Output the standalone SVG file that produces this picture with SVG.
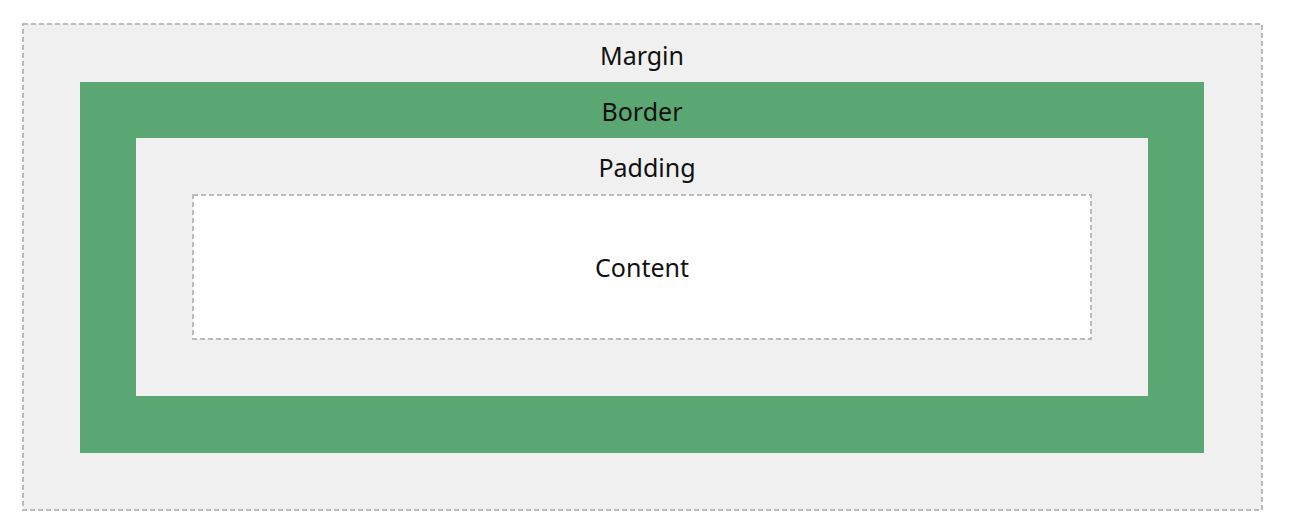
<svg xmlns="http://www.w3.org/2000/svg" width="1296" height="525" viewBox="0 0 1296 525">
<style>
.lbl{font-family:"Noto Sans","Open Sans","Liberation Sans",sans-serif;font-size:25px;fill:#111;text-anchor:middle}
.dash{stroke:#bbbbbb;stroke-width:2;stroke-dasharray:5 3}
</style>
<rect width="1296" height="525" fill="#ffffff"/>
<g id="margin">
<rect class="dash" x="23" y="24" width="1239" height="486" fill="#f0f0f0"/>
<text class="lbl" x="642" y="65">Margin</text>
</g>
<g id="border">
<rect x="80" y="82" width="1124" height="371" fill="#5aa773"/>
<text class="lbl" x="642" y="121">Border</text>
</g>
<g id="padding">
<rect x="136" y="138" width="1012" height="258" fill="#f0f0f0"/>
<text class="lbl" x="647" y="177">Padding</text>
</g>
<g id="content">
<rect class="dash" x="193" y="195" width="898" height="144" fill="#ffffff"/>
<text class="lbl" x="642" y="277">Content</text>
</g>
<g id="connectors"></g>
</svg>
